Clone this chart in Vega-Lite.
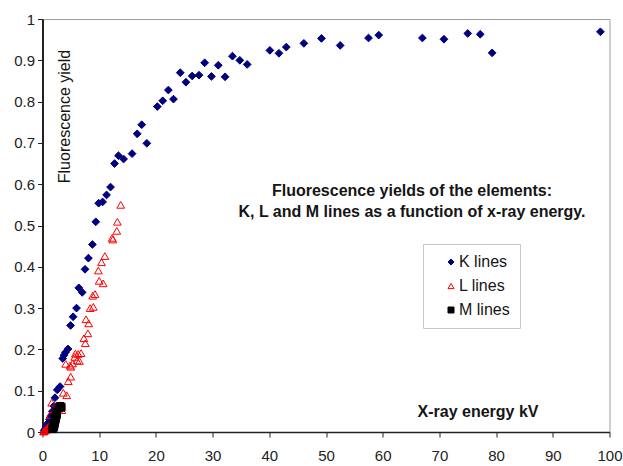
{
  "$schema": "https://vega.github.io/schema/vega-lite/v6.json",
  "width": 567,
  "height": 413,
  "autosize": {"type": "none"},
  "padding": {"left": 42.5, "top": 19, "right": 13.5, "bottom": 34},
  "background": "white",
  "config": {
    "font": "Liberation Sans",
    "view": {"stroke": "#a0a0a0", "strokeWidth": 1},
    "legend": {
      "title": null,
      "orient": "none",
      "legendX": 380.5,
      "legendY": 225,
      "padding": 10,
      "strokeColor": "#c8c8c8",
      "fillColor": "white",
      "labelFontSize": 16,
      "labelFont": "Liberation Sans",
      "labelColor": "#151515",
      "symbolSize": 36,
      "symbolOffset": 10,
      "labelOffset": 0,
      "rowPadding": 8,
      "symbolStrokeWidth": 1
    }
  },
  "title": {
    "text": ["Fluorescence yields of the elements:", "K, L and M lines as a function of x-ray energy."],
    "anchor": "middle",
    "frame": "group",
    "orient": "top",
    "offset": 0,
    "dx": 86,
    "dy": 208,
    "baseline": "top",
    "lineHeight": 21,
    "fontSize": 16,
    "fontWeight": "bold",
    "font": "Liberation Sans",
    "color": "#151515"
  },
  "data": {
    "values": [
      {"series": "K lines", "energy": 0.28, "yield": 0.003},
      {"series": "K lines", "energy": 0.39, "yield": 0.005},
      {"series": "K lines", "energy": 0.52, "yield": 0.008},
      {"series": "K lines", "energy": 0.68, "yield": 0.013},
      {"series": "K lines", "energy": 0.85, "yield": 0.018},
      {"series": "K lines", "energy": 1.04, "yield": 0.023},
      {"series": "K lines", "energy": 1.25, "yield": 0.03},
      {"series": "K lines", "energy": 1.49, "yield": 0.039},
      {"series": "K lines", "energy": 1.74, "yield": 0.05},
      {"series": "K lines", "energy": 2.0, "yield": 0.063},
      {"series": "K lines", "energy": 2.2, "yield": 0.083},
      {"series": "K lines", "energy": 2.6, "yield": 0.102},
      {"series": "K lines", "energy": 3.1, "yield": 0.11},
      {"series": "K lines", "energy": 3.56, "yield": 0.178},
      {"series": "K lines", "energy": 3.8, "yield": 0.186},
      {"series": "K lines", "energy": 4.05, "yield": 0.193},
      {"series": "K lines", "energy": 4.5, "yield": 0.201},
      {"series": "K lines", "energy": 4.95, "yield": 0.258},
      {"series": "K lines", "energy": 5.4, "yield": 0.279},
      {"series": "K lines", "energy": 6.0, "yield": 0.3},
      {"series": "K lines", "energy": 6.4, "yield": 0.349},
      {"series": "K lines", "energy": 7.0, "yield": 0.338},
      {"series": "K lines", "energy": 7.5, "yield": 0.394},
      {"series": "K lines", "energy": 8.1, "yield": 0.421},
      {"series": "K lines", "energy": 8.8, "yield": 0.454},
      {"series": "K lines", "energy": 9.4, "yield": 0.509},
      {"series": "K lines", "energy": 9.9, "yield": 0.554},
      {"series": "K lines", "energy": 10.6, "yield": 0.557},
      {"series": "K lines", "energy": 11.3, "yield": 0.574},
      {"series": "K lines", "energy": 12.0, "yield": 0.593},
      {"series": "K lines", "energy": 12.7, "yield": 0.65},
      {"series": "K lines", "energy": 13.4, "yield": 0.669},
      {"series": "K lines", "energy": 14.3, "yield": 0.661},
      {"series": "K lines", "energy": 15.8, "yield": 0.674},
      {"series": "K lines", "energy": 16.7, "yield": 0.722},
      {"series": "K lines", "energy": 17.5, "yield": 0.744},
      {"series": "K lines", "energy": 18.4, "yield": 0.699},
      {"series": "K lines", "energy": 20.25, "yield": 0.788},
      {"series": "K lines", "energy": 21.2, "yield": 0.802},
      {"series": "K lines", "energy": 22.2, "yield": 0.828},
      {"series": "K lines", "energy": 23.1, "yield": 0.806},
      {"series": "K lines", "energy": 24.3, "yield": 0.87},
      {"series": "K lines", "energy": 25.3, "yield": 0.847},
      {"series": "K lines", "energy": 26.4, "yield": 0.862},
      {"series": "K lines", "energy": 27.6, "yield": 0.864},
      {"series": "K lines", "energy": 28.6, "yield": 0.894},
      {"series": "K lines", "energy": 29.8, "yield": 0.861},
      {"series": "K lines", "energy": 31.0, "yield": 0.888},
      {"series": "K lines", "energy": 32.2, "yield": 0.86},
      {"series": "K lines", "energy": 33.5, "yield": 0.91},
      {"series": "K lines", "energy": 34.8, "yield": 0.9},
      {"series": "K lines", "energy": 36.1, "yield": 0.89},
      {"series": "K lines", "energy": 40.1, "yield": 0.924},
      {"series": "K lines", "energy": 41.7, "yield": 0.917},
      {"series": "K lines", "energy": 43.0, "yield": 0.932},
      {"series": "K lines", "energy": 46.1, "yield": 0.941},
      {"series": "K lines", "energy": 49.2, "yield": 0.953},
      {"series": "K lines", "energy": 52.5, "yield": 0.936},
      {"series": "K lines", "energy": 57.5, "yield": 0.954},
      {"series": "K lines", "energy": 59.3, "yield": 0.961},
      {"series": "K lines", "energy": 67.0, "yield": 0.954},
      {"series": "K lines", "energy": 70.8, "yield": 0.951},
      {"series": "K lines", "energy": 75.0, "yield": 0.965},
      {"series": "K lines", "energy": 77.2, "yield": 0.963},
      {"series": "K lines", "energy": 79.3, "yield": 0.918},
      {"series": "K lines", "energy": 98.4, "yield": 0.969},
      {"series": "L lines", "energy": 0.2, "yield": 0.001},
      {"series": "L lines", "energy": 0.3, "yield": 0.002},
      {"series": "L lines", "energy": 0.44, "yield": 0.004},
      {"series": "L lines", "energy": 0.6, "yield": 0.005},
      {"series": "L lines", "energy": 0.74, "yield": 0.008},
      {"series": "L lines", "energy": 0.9, "yield": 0.01},
      {"series": "L lines", "energy": 1.0, "yield": 0.012},
      {"series": "L lines", "energy": 1.3, "yield": 0.013},
      {"series": "L lines", "energy": 1.5, "yield": 0.02},
      {"series": "L lines", "energy": 1.3, "yield": 0.041},
      {"series": "L lines", "energy": 1.62, "yield": 0.071},
      {"series": "L lines", "energy": 1.9, "yield": 0.029},
      {"series": "L lines", "energy": 2.2, "yield": 0.053},
      {"series": "L lines", "energy": 2.5, "yield": 0.045},
      {"series": "L lines", "energy": 3.2, "yield": 0.065},
      {"series": "L lines", "energy": 3.4, "yield": 0.053},
      {"series": "L lines", "energy": 3.67, "yield": 0.095},
      {"series": "L lines", "energy": 4.27, "yield": 0.089},
      {"series": "L lines", "energy": 4.1, "yield": 0.165},
      {"series": "L lines", "energy": 4.55, "yield": 0.123},
      {"series": "L lines", "energy": 4.97, "yield": 0.134},
      {"series": "L lines", "energy": 4.85, "yield": 0.161},
      {"series": "L lines", "energy": 5.0, "yield": 0.158},
      {"series": "L lines", "energy": 5.3, "yield": 0.166},
      {"series": "L lines", "energy": 5.7, "yield": 0.182},
      {"series": "L lines", "energy": 5.8, "yield": 0.19},
      {"series": "L lines", "energy": 6.1, "yield": 0.173},
      {"series": "L lines", "energy": 6.3, "yield": 0.189},
      {"series": "L lines", "energy": 6.5, "yield": 0.172},
      {"series": "L lines", "energy": 6.8, "yield": 0.191},
      {"series": "L lines", "energy": 7.3, "yield": 0.227},
      {"series": "L lines", "energy": 7.55, "yield": 0.215},
      {"series": "L lines", "energy": 8.0, "yield": 0.239},
      {"series": "L lines", "energy": 7.67, "yield": 0.273},
      {"series": "L lines", "energy": 8.15, "yield": 0.263},
      {"series": "L lines", "energy": 8.4, "yield": 0.3},
      {"series": "L lines", "energy": 8.96, "yield": 0.303},
      {"series": "L lines", "energy": 8.85, "yield": 0.33},
      {"series": "L lines", "energy": 9.26, "yield": 0.334},
      {"series": "L lines", "energy": 9.85, "yield": 0.391},
      {"series": "L lines", "energy": 10.0, "yield": 0.366},
      {"series": "L lines", "energy": 10.7, "yield": 0.36},
      {"series": "L lines", "energy": 10.4, "yield": 0.411},
      {"series": "L lines", "energy": 11.0, "yield": 0.426},
      {"series": "L lines", "energy": 12.3, "yield": 0.47},
      {"series": "L lines", "energy": 12.4, "yield": 0.466},
      {"series": "L lines", "energy": 13.1, "yield": 0.487},
      {"series": "L lines", "energy": 13.2, "yield": 0.509},
      {"series": "L lines", "energy": 13.8, "yield": 0.55},
      {"series": "M lines", "energy": 1.8, "yield": 0.008},
      {"series": "M lines", "energy": 1.95, "yield": 0.012},
      {"series": "M lines", "energy": 2.05, "yield": 0.017},
      {"series": "M lines", "energy": 2.1, "yield": 0.022},
      {"series": "M lines", "energy": 2.2, "yield": 0.028},
      {"series": "M lines", "energy": 2.3, "yield": 0.033},
      {"series": "M lines", "energy": 2.35, "yield": 0.038},
      {"series": "M lines", "energy": 2.45, "yield": 0.042},
      {"series": "M lines", "energy": 2.5, "yield": 0.047},
      {"series": "M lines", "energy": 2.9, "yield": 0.058},
      {"series": "M lines", "energy": 3.1, "yield": 0.062},
      {"series": "M lines", "energy": 3.3, "yield": 0.06}
    ]
  },
  "mark": {"type": "point", "size": 60, "strokeWidth": 1, "opacity": 1},
  "encoding": {
    "x": {
      "field": "energy",
      "type": "quantitative",
      "scale": {"domain": [0, 100], "nice": false, "zero": true},
      "axis": {
        "title": "X-ray energy kV",
        "values": [0, 10, 20, 30, 40, 50, 60, 70, 80, 90, 100],
        "grid": false,
        "domainColor": "#222222",
        "domainWidth": 1.5,
        "tickColor": "#222222",
        "tickSize": 5,
        "tickWidth": 1,
        "labelFontSize": 15,
        "labelColor": "#222222",
        "labelPadding": 11,
        "labelFont": "Liberation Sans",
        "labelFlush": false,
        "titleFontSize": 16,
        "titleFontWeight": "bold",
        "titleColor": "#151515",
        "titleFont": "Liberation Sans",
        "titleX": 435,
        "titleY": -16,
        "titleAlign": "center",
        "titleBaseline": "alphabetic"
      }
    },
    "y": {
      "field": "yield",
      "type": "quantitative",
      "scale": {"domain": [0, 1], "nice": false},
      "axis": {
        "title": "Fluorescence yield",
        "values": [0, 0.1, 0.2, 0.3, 0.4, 0.5, 0.6, 0.7, 0.8, 0.9, 1],
        "format": ".1~f",
        "grid": false,
        "domainColor": "#222222",
        "domainWidth": 2,
        "tickColor": "#222222",
        "tickSize": 5,
        "tickWidth": 1,
        "labelFontSize": 15,
        "labelColor": "#222222",
        "labelPadding": 3,
        "labelFont": "Liberation Sans",
        "labelFlush": false,
        "titleFontSize": 16,
        "titleFontWeight": "normal",
        "titleColor": "#151515",
        "titleFont": "Liberation Sans",
        "titleAngle": -90,
        "titleX": 27,
        "titleY": 97,
        "titleAlign": "center",
        "titleBaseline": "alphabetic"
      }
    },
    "shape": {
      "field": "series",
      "type": "nominal",
      "scale": {"domain": ["K lines", "L lines", "M lines"], "range": ["diamond", "triangle-up", "square"]},
      "legend": {"labelExpr": "datum.label + '\u00a0\u00a0\u00a0\u00a0\u00a0'"}
    },
    "fill": {
      "field": "series",
      "type": "nominal",
      "scale": {"domain": ["K lines", "L lines", "M lines"], "range": ["#00007f", "transparent", "#000000"]},
      "legend": {"labelExpr": "datum.label + '\u00a0\u00a0\u00a0\u00a0\u00a0'"}
    },
    "stroke": {
      "field": "series",
      "type": "nominal",
      "scale": {"domain": ["K lines", "L lines", "M lines"], "range": ["#00007f", "#ff0000", "#000000"]},
      "legend": {"labelExpr": "datum.label + '\u00a0\u00a0\u00a0\u00a0\u00a0'"}
    }
  }
}
